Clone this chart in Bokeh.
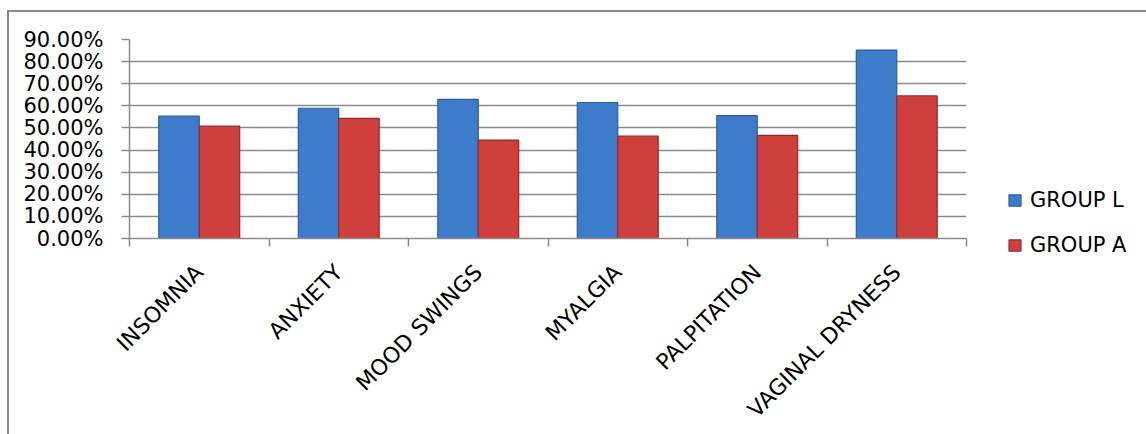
import math
from bokeh.plotting import figure
from bokeh.models import (Range1d, FixedTicker, NumeralTickFormatter, Legend,
                          LegendItem, ColumnDataSource)
from bokeh.embed import file_html
from bokeh.resources import INLINE

categories = ["INSOMNIA", "ANXIETY", "MOOD SWINGS", "MYALGIA", "PALPITATION", "VAGINAL DRYNESS"]
group_l = [0.554, 0.589, 0.629, 0.615, 0.556, 0.852]
group_a = [0.508, 0.543, 0.445, 0.463, 0.466, 0.645]
y_ticks = [0.0, 0.1, 0.2, 0.3, 0.4, 0.5, 0.6, 0.7, 0.8, 0.9]

n = len(categories)
centers = [i + 0.5 for i in range(n)]
bounds = [i for i in range(n + 1)]

src = ColumnDataSource(dict(
    xl=[c - 0.145 for c in centers],
    xa=[c + 0.145 for c in centers],
    l=group_l,
    a=group_a,
))

# canvas placed at (9, 12) in the window because of margin + 2px border
OX, OY = 9, 12
W = 1146 - OX - 4
H = 434 - OY - 4
p = figure(width=W, height=H, output_backend="svg", toolbar_location=None,
           x_range=Range1d(0, n), y_range=Range1d(0, 0.9),
           frame_width=837, frame_height=199,
           min_border_left=129 - OX, min_border_right=W - (966 - OX), min_border_top=39 - OY,
           min_border_bottom=H - (238 - OY))
p.styles = {"margin-left": "7px", "margin-top": "10px",
            "border-left": "2px solid #8a8a8a", "border-top": "2px solid #8a8a8a"}
p.outline_line_color = None
p.background_fill_color = "white"
p.border_fill_color = "white"

GRAY = "#8a8a8a"
FONT = "DejaVu Sans"

rl = p.vbar(x="xl", top="l", width=0.29, bottom=0, source=src,
            fill_color="#3D7CCB", line_color="#2C5D98", line_width=1.2)
ra = p.vbar(x="xa", top="a", width=0.29, bottom=0, source=src,
            fill_color="#CF403D", line_color="#8E2B29", line_width=1.2)

# y axis
p.yaxis.ticker = FixedTicker(ticks=y_ticks)
p.yaxis.formatter = NumeralTickFormatter(format="0.00%")
p.yaxis.axis_line_color = GRAY
p.yaxis.axis_line_width = 1.5
p.yaxis.major_tick_line_color = GRAY
p.yaxis.major_tick_line_width = 1.5
p.yaxis.major_tick_out = 8
p.yaxis.major_tick_in = 0
p.yaxis.minor_tick_line_color = None
p.yaxis.major_label_standoff = 18
p.yaxis.major_label_text_font = FONT
p.yaxis.major_label_text_font_size = "21px"
p.yaxis.major_label_text_color = "black"

# x axis
p.xaxis.ticker = FixedTicker(ticks=centers, minor_ticks=bounds)
p.xaxis.major_label_overrides = {c: lab for c, lab in zip(centers, categories)}
p.xaxis.major_label_orientation = math.pi / 4
p.xaxis.major_tick_line_color = None
p.xaxis.major_tick_out = 0
p.xaxis.major_tick_in = 0
p.xaxis.minor_tick_line_color = GRAY
p.xaxis.minor_tick_line_width = 1.5
p.xaxis.minor_tick_out = 8
p.xaxis.minor_tick_in = 0
p.xaxis.axis_line_color = GRAY
p.xaxis.axis_line_width = 1.5
p.xaxis.major_label_standoff = 22
p.xaxis.major_label_text_font = FONT
p.xaxis.major_label_text_font_size = "22px"
p.xaxis.major_label_text_color = "black"

p.xgrid.grid_line_color = None
p.ygrid.ticker = FixedTicker(ticks=y_ticks)
p.ygrid.grid_line_color = GRAY
p.ygrid.grid_line_width = 1.5

legend = Legend(items=[LegendItem(label="GROUP L", renderers=[rl]),
                       LegendItem(label="GROUP A", renderers=[ra])],
                location=(41, -19), orientation="vertical",
                glyph_width=15, glyph_height=14, label_standoff=8,
                label_height=25, spacing=20, padding=0, margin=0,
                border_line_color=None, background_fill_alpha=0,
                label_text_font=FONT, label_text_font_size="21px",
                label_text_color="black")
p.add_layout(legend, "right")

open("out.html", "w").write(file_html(p, INLINE))
